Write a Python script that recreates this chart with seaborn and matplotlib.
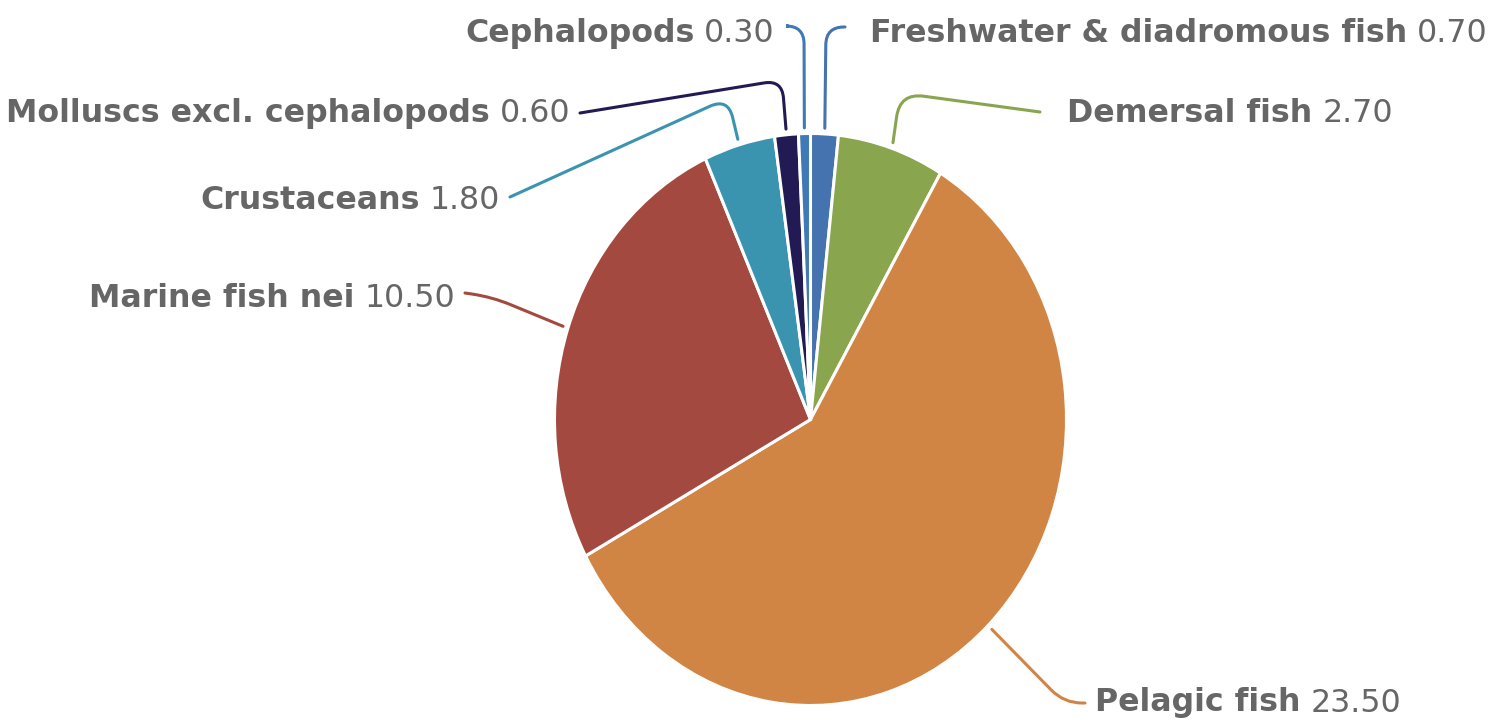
import numpy as np
import matplotlib
matplotlib.use("Agg")
import matplotlib.pyplot as plt
from matplotlib.path import Path
from matplotlib.patches import PathPatch
import seaborn as sns

# data, clockwise from 12 o'clock
categories = ["Freshwater & diadromous fish", "Demersal fish", "Pelagic fish",
              "Marine fish nei", "Crustaceans", "Molluscs excl. cephalopods", "Cephalopods"]
values = [0.70, 2.70, 23.50, 10.50, 1.80, 0.60, 0.30]
colors = ["#4473AF", "#89A54E", "#D18545", "#A4493F", "#3A94B0", "#221A52", "#3F79B6"]

sns.set_theme(style="white")
plt.rcParams["font.family"] = ["DejaVu Sans"]

W, H = 1491, 725
fig = plt.figure(figsize=(W / 100, H / 100), dpi=100)

# pie is drawn slightly taller than wide, like the reference
cx, cy, rx, ry = 810.5, 419.5, 256, 286
ax = fig.add_axes([(cx - rx) / W, (H - cy - ry) / H, 2 * rx / W, 2 * ry / H])
wedges, _ = ax.pie(values, colors=colors, startangle=90, counterclock=False,
                   radius=1, wedgeprops=dict(edgecolor="white", linewidth=2.2))
ax.set_xlim(-1, 1)
ax.set_ylim(-1, 1)
ax.set_aspect("auto")
ax.axis("off")

# overlay in pixel coordinates for labels and connectors
ov = fig.add_axes([0, 0, 1, 1])
ov.set_xlim(0, W)
ov.set_ylim(H, 0)
ov.axis("off")

# label layout: text x, y, alignment, connector start, corner, corner radius
layout = {
    "Freshwater & diadromous fish": (870, 33, "left", (845, 27), (826, 27), 18),
    "Demersal fish": (1067, 113, "left", (1040, 112), (900, 93), 24),
    "Pelagic fish": (1095, 703, "left", (1085, 703), (1064, 703), 18),
    "Marine fish nei": (455, 298, "right", (465, 293), (492, 297), 20),
    "Crustaceans": (500, 200, "right", (510, 197), (728, 98), 20),
    "Molluscs excl. cephalopods": (570, 113, "right", (580, 113), (782, 80), 18),
    "Cephalopods": (775, 33, "right", (788, 26), (804, 26), 18),
}


def rounded(p0, c, p1, r):
    p0, c, p1 = map(np.asarray, (p0, c, p1))
    d0 = (p0 - c) / np.linalg.norm(p0 - c)
    d1 = (p1 - c) / np.linalg.norm(p1 - c)
    a = c + d0 * r
    b = c + d1 * r
    verts = [p0, a, c, b, p1]
    codes = [Path.MOVETO, Path.LINETO, Path.CURVE3, Path.CURVE3, Path.LINETO]
    return Path(verts, codes)


txt_color = "#666666"
fs = 22.8
gap = 10
renderer = fig.canvas.get_renderer()

for w, name, val, col in zip(wedges, categories, values, colors):
    mid = np.deg2rad((w.theta1 + w.theta2) / 2)
    ex = cx + rx * 1.02 * np.cos(mid)
    ey = cy - ry * 1.02 * np.sin(mid)
    tx, ty, ha, start, corner, r = layout[name]

    ov.add_patch(PathPatch(rounded(start, corner, (ex, ey), r), fill=False,
                           edgecolor=col, linewidth=2.2, capstyle="round"))

    vtxt = f"{val:.2f}"
    if ha == "left":
        t1 = ov.text(tx, ty, name, ha="left", va="center", fontsize=fs,
                     fontweight="bold", color=txt_color)
        wpx = t1.get_window_extent(renderer).width
        ov.text(tx + wpx + gap, ty, vtxt, ha="left", va="center", fontsize=fs, color=txt_color)
    else:
        t2 = ov.text(tx, ty, vtxt, ha="right", va="center", fontsize=fs, color=txt_color)
        wpx = t2.get_window_extent(renderer).width
        ov.text(tx - wpx - gap, ty, name, ha="right", va="center", fontsize=fs,
                fontweight="bold", color=txt_color)

fig.savefig("out.png", dpi=100, facecolor="white")
